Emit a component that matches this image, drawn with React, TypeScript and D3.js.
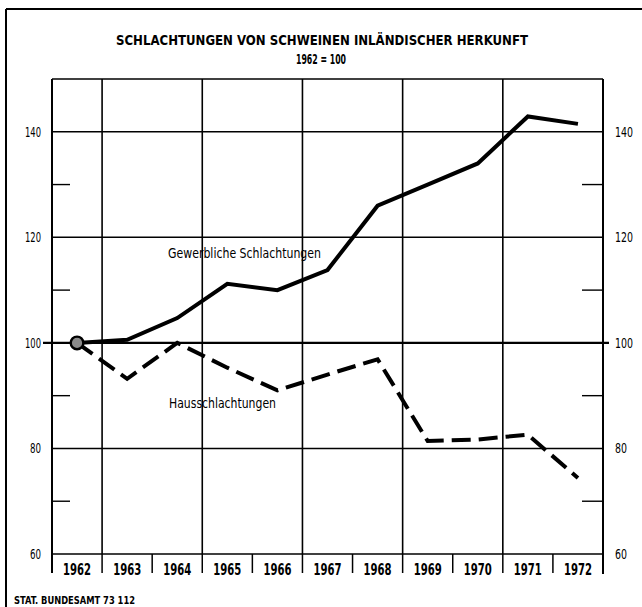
import React from "react";
import * as d3 from "d3";

const years = ["1962", "1963", "1964", "1965", "1966", "1967", "1968", "1969", "1970", "1971", "1972"];
const gewerbliche = [100, 100.6, 104.7, 111.2, 110.0, 113.8, 126.0, 130.0, 134.0, 142.9, 141.5];
const haus = [100, 93.2, 100.0, 95.3, 91.0, 94.0, 96.9, 81.4, 81.7, 82.6, 74.4];
const majorTicks = [60, 80, 100, 120, 140];
const minorTicks = [70, 90, 110, 130];
const gridYears = ["1963", "1965", "1967", "1969", "1971"];

const title = "SCHLACHTUNGEN VON SCHWEINEN INLÄNDISCHER HERKUNFT";
const subtitle = "1962 = 100";
const labelGew = "Gewerbliche Schlachtungen";
const labelHaus = "Hausschlachtungen";
const footer = "STAT. BUNDESAMT 73 112";

const W = 642;
const H = 607;
const FONT = "'DejaVu Sans Condensed', 'Liberation Sans Narrow', 'DejaVu Sans', sans-serif";

export default function App() {
  const x = d3.scaleBand<string>().domain(years).range([52, 603]).paddingInner(0).paddingOuter(0);
  const y = d3.scaleLinear().domain([60, 150]).range([554, 79]);
  const cx = (yr: string) => (x(yr) as number) + x.bandwidth() / 2;
  const left = x.range()[0];
  const right = x.range()[1];
  const top = y(150);
  const base = y(60);

  const line = d3
    .line<number>()
    .x((_, i) => cx(years[i]))
    .y((d) => y(d));

  return (
    <svg
      width={W}
      height={H}
      style={{ position: "absolute", left: 0, top: 0, background: "#fff", fontStretch: "condensed" }}
      fontFamily={FONT}
    >
      <rect x={0} y={0} width={W} height={H} fill="#fff" />
      {/* outer frame */}
      <line x1={6} y1={9} x2={W} y2={9} stroke="#000" strokeWidth={2} />
      <line x1={6} y1={9} x2={6} y2={H} stroke="#000" strokeWidth={2} />

      {/* titles */}
      <text x={322} y={45} textAnchor="middle" fontSize={14} fontWeight="bold" textLength={412} lengthAdjust="spacingAndGlyphs">
        {title}
      </text>
      <text x={321} y={64} textAnchor="middle" fontSize={14} fontWeight="bold" textLength={50} lengthAdjust="spacingAndGlyphs">
        {subtitle}
      </text>

      {/* plot frame */}
      <line x1={left} y1={top} x2={right} y2={top} stroke="#000" strokeWidth={1.6} />
      <line x1={left} y1={top} x2={left} y2={base + 19} stroke="#000" strokeWidth={2} />
      <line x1={right} y1={top} x2={right} y2={base + 20} stroke="#000" strokeWidth={2} />

      {/* horizontal gridlines */}
      {majorTicks.map((t) =>
        t === 100 ? (
          <line key={t} x1={left - 9} x2={right + 6} y1={y(t)} y2={y(t)} stroke="#000" strokeWidth={2.4} />
        ) : (
          <line key={t} x1={left} x2={right} y1={y(t)} y2={y(t)} stroke="#000" strokeWidth={1.5} />
        )
      )}

      {/* minor ticks */}
      {minorTicks.map((t) => (
        <g key={t}>
          <line x1={left} x2={left + 18} y1={y(t)} y2={y(t)} stroke="#000" strokeWidth={1.4} />
          <line x1={right - 21} x2={right} y1={y(t)} y2={y(t)} stroke="#000" strokeWidth={1.4} />
        </g>
      ))}

      {/* vertical gridlines */}
      {gridYears.map((yr) => (
        <line key={yr} x1={x(yr)} x2={x(yr)} y1={top} y2={base} stroke="#000" strokeWidth={1.6} />
      ))}
      {/* separators below baseline */}
      {years.slice(1).map((yr) => (
        <line key={yr} x1={x(yr)} x2={x(yr)} y1={base} y2={base + 19} stroke="#000" strokeWidth={1.5} />
      ))}

      {/* y labels */}
      {majorTicks.map((t) => (
        <g key={t}>
          <text x={41} y={y(t) + 5} textAnchor="end" fontSize={14} textLength={t >= 100 ? 16 : 11} lengthAdjust="spacingAndGlyphs">
            {t}
          </text>
          <text x={615} y={y(t) + 5} textAnchor="start" fontSize={14} textLength={t >= 100 ? 18 : 12} lengthAdjust="spacingAndGlyphs">
            {t}
          </text>
        </g>
      ))}

      {/* year labels */}
      {years.map((yr) => (
        <text key={yr} x={cx(yr)} y={575} textAnchor="middle" fontSize={16} fontWeight="bold" textLength={28} lengthAdjust="spacingAndGlyphs">
          {yr}
        </text>
      ))}

      {/* series */}
      <path d={line(haus) || ""} fill="none" stroke="#000" strokeWidth={4} strokeDasharray="19 8" strokeLinejoin="miter" />
      <path d={line(gewerbliche) || ""} fill="none" stroke="#000" strokeWidth={4} strokeLinejoin="miter" />
      <circle cx={cx(years[0])} cy={y(gewerbliche[0])} r={6.3} fill="#8a8a8a" stroke="#000" strokeWidth={2.4} />

      {/* series labels */}
      <text x={168} y={258} fontSize={14} textLength={153} lengthAdjust="spacingAndGlyphs">
        {labelGew}
      </text>
      <text x={169} y={408} fontSize={14} textLength={107} lengthAdjust="spacingAndGlyphs">
        {labelHaus}
      </text>

      {/* footer */}
      <text x={14} y={604} fontSize={11} fontWeight="bold" textLength={121} lengthAdjust="spacingAndGlyphs">
        {footer}
      </text>
    </svg>
  );
}
